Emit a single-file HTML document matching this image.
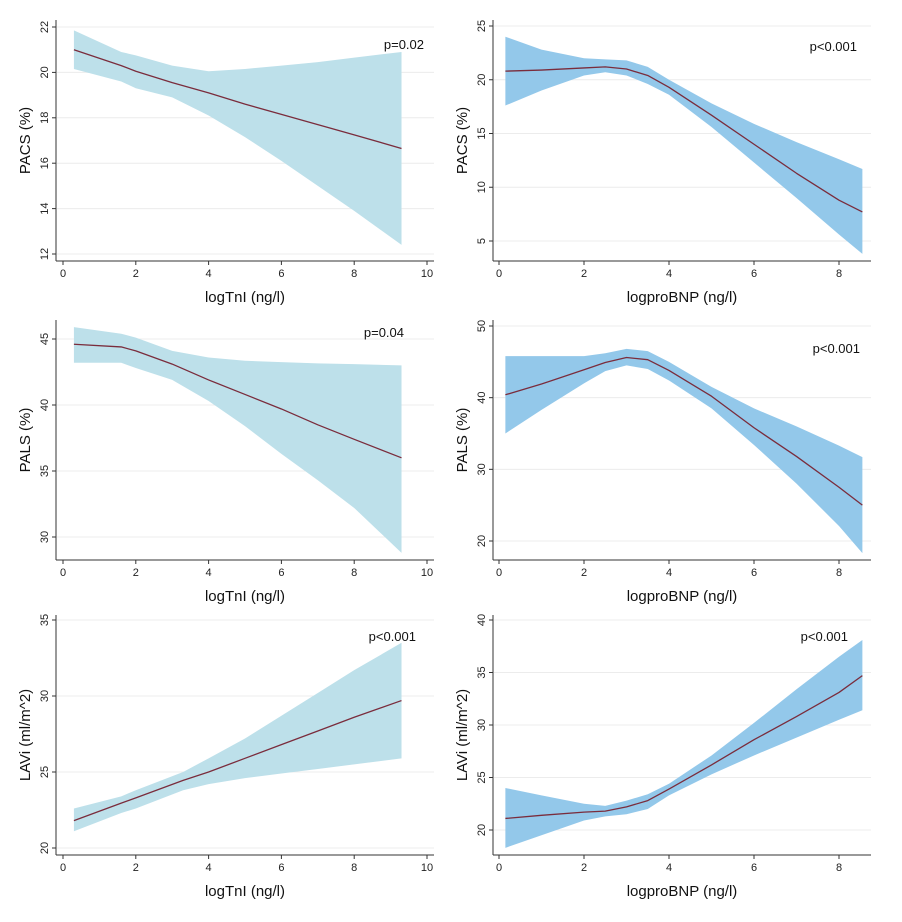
<!DOCTYPE html>
<html><head><meta charset="utf-8"><style>
body{margin:0;background:#fff}
svg{display:block;font-family:"Liberation Sans",Arial,sans-serif}
</style></head><body>
<svg id="fig" width="902" height="922" viewBox="0 0 902 922"></svg>
<script>
// Panel data (x, value)
const p1x=[0.3,1.6,2,3,4,5,6,7,8,9.3];
const p1m=[21.0,20.3,20.05,19.55,19.1,18.6,18.15,17.7,17.25,16.65];
const p1u=[21.85,20.9,20.75,20.3,20.05,20.15,20.3,20.45,20.65,20.9];
const p1l=[20.15,19.6,19.3,18.9,18.1,17.15,16.1,15.0,13.9,12.4];

const p2x=[0.15,1,2,2.5,3,3.5,4,5,6,7,8,8.55];
const p2m=[20.8,20.9,21.1,21.2,21.0,20.4,19.3,16.7,14.0,11.3,8.8,7.7];
const p2u=[24.0,22.8,22.0,21.9,21.8,21.2,20.0,17.8,15.9,14.2,12.6,11.7];
const p2l=[17.6,19.0,20.4,20.7,20.4,19.6,18.6,15.6,12.3,9.0,5.6,3.8];

const p3x=[0.3,1.6,2,3,4,5,6,7,8,9.3];
const p3m=[44.6,44.4,44.1,43.1,41.9,40.8,39.7,38.5,37.4,36.0];
const p3u=[45.9,45.4,45.1,44.1,43.6,43.35,43.25,43.15,43.1,43.0];
const p3l=[43.2,43.2,42.8,41.9,40.3,38.4,36.3,34.3,32.2,28.8];

const p4x=[0.15,1,2,2.5,3,3.5,4,5,6,7,8,8.55];
const p4m=[40.4,41.9,43.9,44.9,45.6,45.3,43.8,40.2,35.8,31.8,27.5,25.0];
const p4u=[45.8,45.8,45.8,46.2,46.8,46.5,45.0,41.5,38.5,36.0,33.3,31.7];
const p4l=[35.0,38.3,42.0,43.7,44.5,44.0,42.4,38.5,33.4,28.0,22.1,18.3];

const p5x=[0.3,1.6,2,3.3,4,5,6,7,8,9.3];
const p5m=[21.8,22.95,23.3,24.45,25.0,25.9,26.8,27.7,28.6,29.7];
const p5u=[22.6,23.4,23.8,25.0,25.9,27.2,28.7,30.2,31.7,33.5];
const p5l=[21.1,22.3,22.6,23.8,24.2,24.6,24.9,25.2,25.5,25.9];

const p6x=[0.15,1,2,2.5,3,3.5,4,5,6,7,8,8.55];
const p6m=[21.1,21.4,21.7,21.8,22.2,22.8,23.9,26.2,28.6,30.8,33.1,34.7];
const p6u=[24.0,23.3,22.5,22.3,22.8,23.4,24.4,27.1,30.2,33.4,36.5,38.1];
const p6l=[18.3,19.5,20.9,21.3,21.5,22.0,23.3,25.3,27.1,28.8,30.5,31.4];

const tnITicks=[0,2,4,6,8,10];
const bnpTicks=[0,2,4,6,8];
const yt1=[12,14,16,18,20,22], yt2=[5,10,15,20,25], yt3=[30,35,40,45], yt4=[20,30,40,50], yt5=[20,25,30,35], yt6=[20,25,30,35,40];

const NS="http://www.w3.org/2000/svg";
const svg=document.getElementById('fig');
function mk(tag,attrs,parent){const e=document.createElementNS(NS,tag);for(const k in attrs)e.setAttribute(k,attrs[k]);(parent||svg).appendChild(e);return e;}

function panel(cfg){
  const g=mk('g',{});
  
  
  const X=v=>cfg.x0+(v)*cfg.xs;
  const Y=v=>cfg.yA+(v-cfg.vA)*(cfg.yB-cfg.yA)/(cfg.vB-cfg.vA);
  cfg.yt.forEach(t=>{
    const l=mk('line',{x1:cfg.axX+1,x2:cfg.right,y1:Y(t),y2:Y(t),stroke:'#ececec','stroke-width':1},g);
    
    
  });
  let d='M'+cfg.xs_.map((x,i)=>X(x)+','+Y(cfg.u[i])).join(' L');
  for(let i=cfg.xs_.length-1;i>=0;i--) d+=' L'+X(cfg.xs_[i])+','+Y(cfg.l[i]);
  d+=' Z';
  const band=mk('path',{d:d,fill:cfg.fill,stroke:'none'},g);
  
  
  const line=mk('polyline',{points:cfg.xs_.map((x,i)=>X(x)+','+Y(cfg.m[i])).join(' '),fill:'none',stroke:'#7a2c3c','stroke-width':1.3,'stroke-linejoin':'round'},g);
  
  
  const ya=mk('line',{x1:cfg.axX,x2:cfg.axX,y1:cfg.top,y2:cfg.axY,stroke:'#333','stroke-width':1},g);
  
  
  const xa=mk('line',{x1:cfg.axX,x2:cfg.right,y1:cfg.axY,y2:cfg.axY,stroke:'#333','stroke-width':1},g);
  
  
  cfg.yt.forEach(t=>{
    mk('line',{x1:cfg.axX-4,x2:cfg.axX,y1:Y(t),y2:Y(t),stroke:'#333'},g);
    const tx=mk('text',{x:0,y:0,transform:`translate(${cfg.axX-8},${Y(t)}) rotate(-90)`,'text-anchor':'middle','font-size':11,fill:'#222'},g);
    tx.textContent=t;
    
    
  });
  cfg.xt.forEach(t=>{
    mk('line',{x1:X(t),x2:X(t),y1:cfg.axY,y2:cfg.axY+4,stroke:'#333'},g);
    const tx=mk('text',{x:X(t),y:cfg.axY+16,'text-anchor':'middle','font-size':11,fill:'#222'},g);
    tx.textContent=t;
    
    
  });
  const xtl=mk('text',{x:(cfg.axX+cfg.right)/2,y:cfg.axY+41,'text-anchor':'middle','font-size':15,fill:'#111'},g);
  xtl.textContent=cfg.xlab;
  
  
  const ytl=mk('text',{x:0,y:0,transform:`translate(${cfg.axX-26},${(cfg.top+cfg.axY)/2}) rotate(-90)`,'text-anchor':'middle','font-size':15,fill:'#111'},g);
  ytl.textContent=cfg.ylab;
  
  
  const pt=mk('text',{x:cfg.px,y:cfg.py,'text-anchor':'end','font-size':13,fill:'#111'},g);
  pt.textContent=cfg.p;
  
  
}
const L={axX:56,x0:63,xs:36.4,right:434,xt:tnITicks,xlab:'logTnI (ng/l)',fill:'#bde0ea'};
const R={axX:493,x0:499,xs:42.5,right:871,xt:bnpTicks,xlab:'logproBNP (ng/l)',fill:'#93c8ea'};
panel(Object.assign({},L,{name:'panel-pacs-tni',top:20,axY:261,yA:27,vA:22,yB:254,vB:12,yt:yt1,xs_:p1x,m:p1m,u:p1u,l:p1l,ylab:'PACS (%)',p:'p=0.02',px:424,py:49}));
panel(Object.assign({},R,{name:'panel-pacs-bnp',top:20,axY:261,yA:26,vA:25,yB:241,vB:5,yt:yt2,xs_:p2x,m:p2m,u:p2u,l:p2l,ylab:'PACS (%)',p:'p<0.001',px:857,py:51}));
panel(Object.assign({},L,{name:'panel-pals-tni',top:320,axY:560,yA:339,vA:45,yB:537,vB:30,yt:yt3,xs_:p3x,m:p3m,u:p3u,l:p3l,ylab:'PALS (%)',p:'p=0.04',px:404,py:337}));
panel(Object.assign({},R,{name:'panel-pals-bnp',top:320,axY:560,yA:326,vA:50,yB:541,vB:20,yt:yt4,xs_:p4x,m:p4m,u:p4u,l:p4l,ylab:'PALS (%)',p:'p<0.001',px:860,py:353}));
panel(Object.assign({},L,{name:'panel-lavi-tni',top:615,axY:855,yA:620,vA:35,yB:848,vB:20,yt:yt5,xs_:p5x,m:p5m,u:p5u,l:p5l,ylab:'LAVi (ml/m^2)',p:'p<0.001',px:416,py:641}));
panel(Object.assign({},R,{name:'panel-lavi-bnp',top:615,axY:855,yA:620,vA:40,yB:830,vB:20,yt:yt6,xs_:p6x,m:p6m,u:p6u,l:p6l,ylab:'LAVi (ml/m^2)',p:'p<0.001',px:848,py:641}));
</script>
</body></html>
